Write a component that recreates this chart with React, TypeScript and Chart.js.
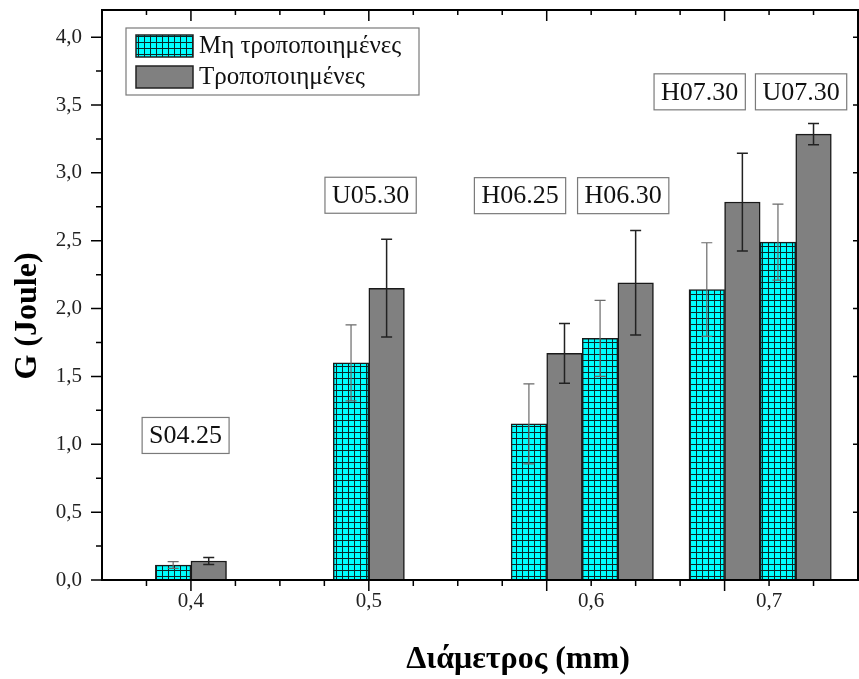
import React, { useEffect, useRef } from "react";
import { Chart, registerables } from "chart.js";

Chart.register(...registerables);

// ---------- data ----------
const seriesLabels = ["Μη τροποποιημένες", "Τροποποιημένες"];

const untreatedX = [0.39, 0.49, 0.59, 0.63, 0.69, 0.73];
const untreatedG = [0.11, 1.6, 1.15, 1.78, 2.14, 2.49];
const untreatedErr = [0.025, 0.28, 0.295, 0.28, 0.345, 0.28];

const treatedX = [0.41, 0.51, 0.61, 0.65, 0.71, 0.75];
const treatedG = [0.14, 2.15, 1.67, 2.19, 2.785, 3.285];
const treatedErr = [0.026, 0.36, 0.22, 0.385, 0.36, 0.078];

const sampleNames = ["S04.25", "U05.30", "H06.25", "H06.30", "H07.30", "U07.30"];
const sampleX = [0.397, 0.501, 0.585, 0.643, 0.686, 0.743];
const sampleY = [1.065, 2.835, 2.832, 2.832, 3.597, 3.597];

const xTickValues = [0.4, 0.5, 0.625, 0.725];
const xTickLabels = ["0,4", "0,5", "0,6", "0,7"];
const xMajorTicks = [0.4, 0.5, 0.6, 0.7];

const yTickValues = [0, 0.5, 1, 1.5, 2, 2.5, 3, 3.5, 4];
const yTickLabels = ["0,0", "0,5", "1,0", "1,5", "2,0", "2,5", "3,0", "3,5", "4,0"];

const xTitle = "Διάμετρος (mm)";
const yTitle = "G (Joule)";

const X_MIN = 0.35;
const X_MAX = 0.775;
const Y_MIN = 0;
const Y_MAX = 4.2;

const SERIF = '"Liberation Serif", "Times New Roman", serif';

function makePattern(): CanvasPattern | string {
  const c = document.createElement("canvas");
  c.width = 6;
  c.height = 6;
  const g = c.getContext("2d");
  if (!g) return "#00ffff";
  g.fillStyle = "#00ffff";
  g.fillRect(0, 0, 6, 6);
  g.fillStyle = "#0a2828";
  g.fillRect(0, 0, 6, 1);
  g.fillRect(0, 0, 1, 6);
  const p = g.createPattern(c, "repeat");
  return p || "#00ffff";
}

const errorsByDataset = [untreatedErr, treatedErr];
const errorColors = ["#6a6a6a", "#222222"];

const decorPlugin = {
  id: "decor",
  afterDatasetsDraw(chart: any) {
    const ctx: CanvasRenderingContext2D = chart.ctx;
    const xs = chart.scales.x;
    const ys = chart.scales.y;
    const area = chart.chartArea;

    // error bars
    chart.data.datasets.forEach((ds: any, di: number) => {
      const meta = chart.getDatasetMeta(di);
      const errs = errorsByDataset[di];
      meta.data.forEach((el: any, i: number) => {
        const v = ds.data[i].y;
        const e = errs[i];
        const x = el.x;
        const yt = ys.getPixelForValue(v + e);
        const yb = ys.getPixelForValue(v - e);
        ctx.save();
        ctx.strokeStyle = errorColors[di];
        ctx.lineWidth = di === 0 ? 1.2 : 1.5;
        ctx.beginPath();
        ctx.moveTo(x, yt);
        ctx.lineTo(x, yb);
        ctx.moveTo(x - 5.5, yt);
        ctx.lineTo(x + 5.5, yt);
        ctx.moveTo(x - 5.5, yb);
        ctx.lineTo(x + 5.5, yb);
        ctx.stroke();
        ctx.restore();
      });
    });

    // sample label boxes
    ctx.save();
    ctx.font = `26px ${SERIF}`;
    ctx.textAlign = "center";
    ctx.textBaseline = "middle";
    sampleNames.forEach((name, i) => {
      const cx = xs.getPixelForValue(sampleX[i]);
      const cy = ys.getPixelForValue(sampleY[i]);
      const w = ctx.measureText(name).width + 14;
      const h = 36;
      ctx.fillStyle = "#ffffff";
      ctx.fillRect(cx - w / 2, cy - h / 2, w, h);
      ctx.strokeStyle = "#7a7a7a";
      ctx.lineWidth = 1.2;
      ctx.strokeRect(cx - w / 2, cy - h / 2, w, h);
      ctx.fillStyle = "#111111";
      ctx.fillText(name, cx, cy + 1);
    });
    ctx.restore();

    // legend
    ctx.save();
    const lx = area.left + 24;
    const ly = area.top + 18;
    const lw = 293;
    const lh = 67;
    ctx.fillStyle = "#ffffff";
    ctx.fillRect(lx, ly, lw, lh);
    ctx.strokeStyle = "#7a7a7a";
    ctx.lineWidth = 1.2;
    ctx.strokeRect(lx, ly, lw, lh);
    ctx.font = `25px ${SERIF}`;
    ctx.textAlign = "left";
    ctx.textBaseline = "middle";
    chart.data.datasets.forEach((ds: any, di: number) => {
      const sy = ly + 7 + di * 31;
      ctx.fillStyle = ds.backgroundColor;
      ctx.fillRect(lx + 10, sy, 57, 22);
      ctx.strokeStyle = "#222222";
      ctx.lineWidth = 1.5;
      ctx.strokeRect(lx + 10, sy, 57, 22);
      ctx.fillStyle = "#111111";
      ctx.fillText(ds.label, lx + 73, sy + 11);
    });
    ctx.restore();

    // frame
    ctx.save();
    ctx.strokeStyle = "#000000";
    ctx.lineWidth = 2;
    ctx.strokeRect(area.left, area.top, area.right - area.left, area.bottom - area.top);

    // x ticks (bottom outward, top inward)
    ctx.lineWidth = 1.5;
    ctx.beginPath();
    for (let k = 1; X_MIN + k * 0.025 < X_MAX - 1e-9; k++) {
      const v = X_MIN + k * 0.025;
      const major = xMajorTicks.some((m) => Math.abs(m - v) < 1e-6);
      const px = xs.getPixelForValue(v);
      const len = major ? 11 : 6;
      ctx.moveTo(px, area.bottom);
      ctx.lineTo(px, area.bottom + len);
      ctx.moveTo(px, area.top);
      ctx.lineTo(px, area.top + (major ? 11 : 5));
    }
    // y ticks (left outward, right inward major)
    for (let k = 0; k <= 16; k++) {
      const v = k * 0.25;
      const major = k % 2 === 0;
      const py = ys.getPixelForValue(v);
      if (k > 0) {
        ctx.moveTo(area.left, py);
        ctx.lineTo(area.left - (major ? 11 : 6), py);
      }
      if (major && k > 0) {
        ctx.moveTo(area.right, py);
        ctx.lineTo(area.right - 5, py);
      }
    }
    ctx.moveTo(area.left, area.bottom);
    ctx.lineTo(area.left - 11, area.bottom);
    ctx.stroke();
    ctx.restore();

    // axis titles
    ctx.save();
    ctx.fillStyle = "#000000";
    ctx.font = `bold 32px ${SERIF}`;
    ctx.textAlign = "center";
    ctx.textBaseline = "middle";
    ctx.fillText(xTitle, (area.left + area.right) / 2 + 38, area.bottom + 80);
    ctx.translate(area.left - 74, (area.top + area.bottom) / 2 + 21);
    ctx.rotate(-Math.PI / 2);
    ctx.fillText(yTitle, 0, 0);
    ctx.restore();
  },
};

export default function App() {
  const canvasRef = useRef<HTMLCanvasElement | null>(null);

  useEffect(() => {
    const canvas = canvasRef.current;
    if (!canvas) return;
    const pattern = makePattern();
    const chart = new Chart(canvas, {
      type: "bar",
      data: {
        datasets: [
          {
            label: seriesLabels[0],
            data: untreatedX.map((x, i) => ({ x, y: untreatedG[i] })),
            backgroundColor: pattern as any,
            borderColor: "#1a1a1a",
            borderWidth: 1.5,
            grouped: false,
            barPercentage: 1,
            categoryPercentage: 1,
          },
          {
            label: seriesLabels[1],
            data: treatedX.map((x, i) => ({ x, y: treatedG[i] })),
            backgroundColor: "#808080",
            borderColor: "#1a1a1a",
            borderWidth: 1.5,
            grouped: false,
            barPercentage: 1,
            categoryPercentage: 1,
          },
        ],
      },
      options: {
        animation: false,
        responsive: false,
        maintainAspectRatio: false,
        events: [],
        layout: { padding: { top: 10, right: 1, left: 0, bottom: 0 } },
        plugins: {
          legend: { display: false },
          tooltip: { enabled: false },
          title: { display: false },
        },
        scales: {
          x: {
            type: "linear",
            min: X_MIN,
            max: X_MAX,
            offset: false,
            grid: { display: false, drawTicks: false },
            border: { display: false },
            afterBuildTicks: (scale: any) => {
              scale.ticks = xTickValues.map((v) => ({ value: v }));
            },
            afterFit: (scale: any) => {
              scale.height = 99;
              scale.paddingLeft = 0;
              scale.paddingRight = 0;
              scale.paddingTop = 0;
              scale.paddingBottom = 0;
            },
            ticks: {
              autoSkip: false,
              maxRotation: 0,
              padding: 9,
              color: "#222222",
              font: { family: SERIF, size: 21 },
              callback: (_v: any, i: number) => xTickLabels[i],
            },
          },
          y: {
            type: "linear",
            min: Y_MIN,
            max: Y_MAX,
            grid: { display: false, drawTicks: false },
            border: { display: false },
            afterBuildTicks: (scale: any) => {
              scale.ticks = yTickValues.map((v) => ({ value: v }));
            },
            afterFit: (scale: any) => {
              scale.width = 102;
              scale.paddingLeft = 0;
              scale.paddingRight = 0;
              scale.paddingTop = 0;
              scale.paddingBottom = 0;
            },
            ticks: {
              padding: 20,
              color: "#222222",
              font: { family: SERIF, size: 21 },
              callback: (_v: any, i: number) => yTickLabels[i],
            },
          },
        },
      } as any,
      plugins: [decorPlugin],
    });
    return () => chart.destroy();
  }, []);

  return (
    <div style={{ position: "absolute", left: 0, top: 0, width: 859, height: 679, background: "#ffffff" }}>
      <canvas ref={canvasRef} width={859} height={679} />
    </div>
  );
}
